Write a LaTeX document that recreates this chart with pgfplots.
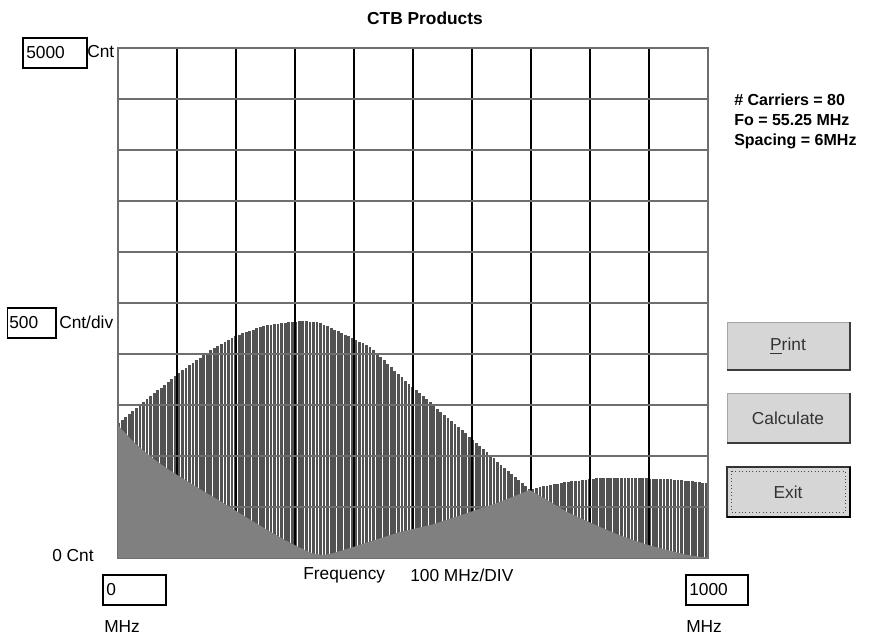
\documentclass[border=0pt]{standalone}
\usepackage{pgfplots}
\pgfplotsset{compat=1.18}
\usepackage{fontspec}
\setmainfont{Liberation Sans}
\pgfplotsset{set layers}

\definecolor{combgray}{RGB}{82,82,82}
\definecolor{fillgray}{RGB}{128,128,128}
\definecolor{hgrid}{RGB}{110,110,110}
\definecolor{btnface}{RGB}{214,214,214}
\definecolor{btndark}{RGB}{60,60,60}

\begin{document}
\begin{tikzpicture}
\begin{axis}[
  at={(88.5pt,60pt)}, anchor=south west,
  scale only axis, width=442.5pt, height=382.5pt,
  xmin=0, xmax=1000, ymin=0, ymax=5000,
  xtick={0,100,...,1000}, ytick={0,500,...,5000},
  xticklabels={}, yticklabels={},
  major tick length=0pt,
  grid=major,
  x grid style={black, line width=0.9pt},
  y grid style={hgrid, line width=1.3pt},
  axis line style={draw=hgrid, line width=1.2pt},
]
% CTB product counts, one line every 6 MHz from 1.25 MHz
\addplot[ycomb, draw=combgray, line width=2.1pt, mark=none, on layer=axis background] coordinates {
(1.25,1326) (7.25,1355) (13.25,1384) (19.25,1412) (25.25,1441) (31.25,1470)
(37.25,1499) (43.25,1528) (49.25,1556) (55.25,1585) (61.25,1614) (67.25,1643)
(73.25,1671) (79.25,1700) (85.25,1729) (91.25,1758) (97.25,1787) (103.25,1814)
(109.25,1839) (115.25,1864) (121.25,1889) (127.25,1914) (133.25,1940) (139.25,1965)
(145.25,1990) (151.25,2014) (157.25,2035) (163.25,2055) (169.25,2075) (175.25,2096)
(181.25,2116) (187.25,2137) (193.25,2157) (199.25,2177) (205.25,2190) (211.25,2202)
(217.25,2214) (223.25,2226) (229.25,2238) (235.25,2250) (241.25,2262) (247.25,2274)
(253.25,2282) (259.25,2287) (265.25,2292) (271.25,2296) (277.25,2301) (283.25,2305)
(289.25,2310) (295.25,2314) (301.25,2318) (307.25,2320) (313.25,2320) (319.25,2319)
(325.25,2317) (331.25,2314) (337.25,2311) (343.25,2301) (349.25,2286) (355.25,2270)
(361.25,2254) (367.25,2238) (373.25,2222) (379.25,2206) (385.25,2190) (391.25,2175)
(397.25,2157) (403.25,2140) (409.25,2122) (415.25,2105) (421.25,2087) (427.25,2069)
(433.25,2036) (439.25,2003) (445.25,1970) (451.25,1937) (457.25,1904) (463.25,1871)
(469.25,1838) (475.25,1804) (481.25,1771) (487.25,1739) (493.25,1708) (499.25,1678)
(505.25,1647) (511.25,1617) (517.25,1586) (523.25,1556) (529.25,1525) (535.25,1495)
(541.25,1464) (547.25,1434) (553.25,1403) (559.25,1373) (565.25,1342) (571.25,1312)
(577.25,1282) (583.25,1251) (589.25,1221) (595.25,1190) (601.25,1160) (607.25,1129)
(613.25,1099) (619.25,1068) (625.25,1038) (631.25,1007) (637.25,977) (643.25,946)
(649.25,916) (655.25,885) (661.25,855) (667.25,824) (673.25,794) (679.25,763)
(685.25,733) (691.25,702) (697.25,672) (703.25,676) (709.25,686) (715.25,696)
(721.25,703) (727.25,709) (733.25,716) (739.25,722) (745.25,728) (751.25,735)
(757.25,741) (763.25,747) (769.25,751) (775.25,755) (781.25,759) (787.25,763)
(793.25,767) (799.25,772) (805.25,776) (811.25,780) (817.25,784) (823.25,784)
(829.25,784) (835.25,784) (841.25,784) (847.25,784) (853.25,784) (859.25,784)
(865.25,784) (871.25,784) (877.25,783) (883.25,782) (889.25,781) (895.25,780)
(901.25,779) (907.25,778) (913.25,777) (919.25,776) (925.25,775) (931.25,774)
(937.25,771) (943.25,767) (949.25,764) (955.25,760) (961.25,757) (967.25,753)
(973.25,750) (979.25,746) (985.25,743) (991.25,739) (997.25,736)
};
% solid lower region
\addplot[fill=fillgray, draw=none] coordinates {
(0,1300) (28,1130) (56,990) (85,870) (114,765) (142,665) (170,570) (198,470)
(225,372) (254,272) (283,176) (300,125) (317,78) (330,45) (345,30) (360,40)
(400,110) (440,185) (478,255) (534,330) (592,441) (647,549) (698,667)
(730,560) (761,451) (790,375) (817,304) (845,235) (873,176) (900,125)
(931,78) (960,35) (987,10) (1000,5)
} \closedcycle;
\end{axis}

\begin{scope}[x=0.75pt, y=-0.75pt, shift={(0,478.5pt)},
  every node/.style={inner sep=0pt, font=\fontsize{13}{15}\selectfont}]
\path[use as bounding box] (0,0) rectangle (871,638);
\node[font=\bfseries\fontsize{13}{15}\selectfont] at (425,18) {CTB Products};
% left value boxes
\draw[line width=0.8pt] (23,38) rectangle (87,68);
\node[anchor=west] at (26,53) {5000};
\node[anchor=west] at (87,52) {Cnt};
\draw[line width=0.8pt] (7.5,308) rectangle (56,338);
\node[anchor=west] at (9,323) {500};
\node[anchor=west] at (59,322) {Cnt/div};
\node[anchor=west] at (52,556) {0 Cnt};
% bottom boxes
\draw[line width=0.8pt] (103,575) rectangle (166,605);
\node[anchor=west] at (106,590) {0};
\node[anchor=west] at (104,627) {MHz};
\draw[line width=0.8pt] (686,575) rectangle (748,605);
\node[anchor=west] at (689,590) {1000};
\node[anchor=west] at (686,627) {MHz};
\node[anchor=west] at (303,575) {Frequency};
\node[anchor=west] at (410,575) {100 MHz/DIV};
% parameters
\node[anchor=west, font=\bfseries\fontsize{12}{14}\selectfont] at (734,100) {\# Carriers = 80};
\node[anchor=west, font=\bfseries\fontsize{12}{14}\selectfont] at (734,120) {Fo = 55.25 MHz};
\node[anchor=west, font=\bfseries\fontsize{12}{14}\selectfont] at (734,141) {Spacing = 6MHz};
% buttons
\fill[btnface] (727,322) rectangle (850,370);
\draw[gray!70, line width=0.6pt] (727,322) rectangle (850,370);
\draw[btndark, line width=1.4pt] (727,370) -- (850,370) -- (850,322);
\node[text=black!80] at (788,346) {\underline{P}rint};
\fill[btnface] (727,393) rectangle (850,443);
\draw[gray!70, line width=0.6pt] (727,393) rectangle (850,443);
\draw[btndark, line width=1.4pt] (727,443) -- (850,443) -- (850,393);
\node[text=black!80] at (788,418) {Calculate};
\fill[btnface] (727,467) rectangle (850,517);
\draw[black!80, line width=1.2pt] (727,467) rectangle (850,517);
\draw[black, line width=1.6pt] (727,517) -- (850,517) -- (850,467);
\draw[black!70, line width=0.6pt, dotted] (731,471) rectangle (845,512);
\node[text=black!80] at (788,492) {Exit};
\end{scope}
\end{tikzpicture}
\end{document}
